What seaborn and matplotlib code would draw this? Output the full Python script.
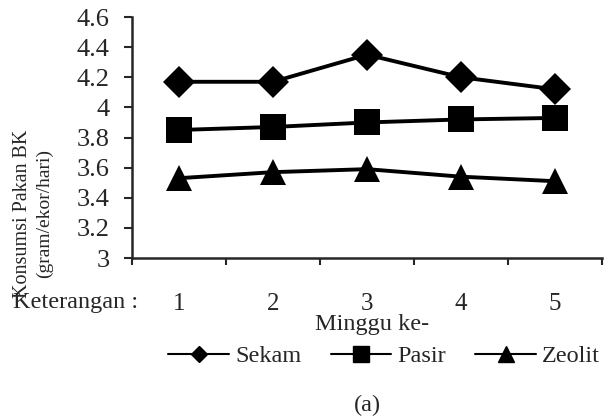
import pandas as pd
import numpy as np
import matplotlib
matplotlib.use('Agg')
import matplotlib.pyplot as plt
import seaborn as sns

# data
minggu = [1, 2, 3, 4, 5]
sekam = [4.17, 4.17, 4.35, 4.20, 4.12]
pasir = [3.85, 3.87, 3.90, 3.92, 3.93]
zeolit = [3.53, 3.57, 3.59, 3.54, 3.51]
perlakuan = ['Sekam', 'Pasir', 'Zeolit']

data = pd.DataFrame({
    'Minggu': minggu * 3,
    'Konsumsi': sekam + pasir + zeolit,
    'Perlakuan': np.repeat(perlakuan, len(minggu)),
})
data['pos'] = data['Minggu'] - 1

sns.set_style('ticks')
plt.rcParams['font.family'] = ['Liberation Serif', 'DejaVu Serif']

fig = plt.figure(figsize=(6.1, 4.19), dpi=100)
ax = fig.add_axes([0.2164, 0.3842, 0.7705, 0.5752])

markers = {'Sekam': 'D', 'Pasir': 's', 'Zeolit': '^'}
sizes_big = {'Sekam': 16, 'Pasir': 19, 'Zeolit': 19}
for nama in perlakuan:
    sub = data[data['Perlakuan'] == nama]
    sns.lineplot(data=sub, x='pos', y='Konsumsi', ax=ax, color='black',
                 marker=markers[nama], markersize=sizes_big[nama],
                 markeredgecolor='black', markeredgewidth=0, linewidth=2.8,
                 legend=False)

ax.set_ylim(3, 4.6)
ax.set_yticks(np.arange(3, 4.61, 0.2))
ax.set_yticklabels(['3', '3.2', '3.4', '3.6', '3.8', '4', '4.2', '4.4', '4.6'])
ax.set_xlim(-0.5, 4.5)
ax.set_xticks(np.arange(-0.5, 4.6, 1))
ax.set_xticklabels([])
ax.set_xticks(range(5), minor=True)
ax.set_xticklabels([str(m) for m in minggu], minor=True)
ax.tick_params(axis='x', which='major', length=5, width=1.5, direction='out')
ax.tick_params(axis='x', which='minor', length=0, pad=25, labelsize=18)
ax.tick_params(axis='y', length=6, width=1.5, direction='out', pad=10, labelsize=19)
for side in ['top', 'right']:
    ax.spines[side].set_visible(False)
for side in ['left', 'bottom']:
    ax.spines[side].set_linewidth(1.8)
ax.set_xlabel('')
ax.set_ylabel('')

# labels
fig.text(0.037, 0.49, 'Konsumsi Pakan BK', rotation=90, ha='center', va='center', fontsize=14.5)
fig.text(0.073, 0.49, '(gram/ekor/hari)', rotation=90, ha='center', va='center', fontsize=14)
fig.text(0.022, 0.279, 'Keterangan :', ha='left', va='center', fontsize=17.5)
fig.text(0.61, 0.226, 'Minggu ke-', ha='center', va='center', fontsize=17.5)
fig.text(0.602, 0.033, '(a)', ha='center', va='center', fontsize=17.5)

# legend with smaller markers
small = {'Sekam': 8, 'Pasir': 11, 'Zeolit': 11}
handles = [plt.Line2D([], [], color='black', marker=markers[n], markersize=small[n],
                      linewidth=1.5) for n in perlakuan]
fig.legend(handles, perlakuan, loc='center', bbox_to_anchor=(0.63, 0.150), ncol=3,
           frameon=False, fontsize=17.5, handlelength=2.5, handletextpad=0.25,
           columnspacing=1.2)

plt.savefig('out.png', dpi=100)
